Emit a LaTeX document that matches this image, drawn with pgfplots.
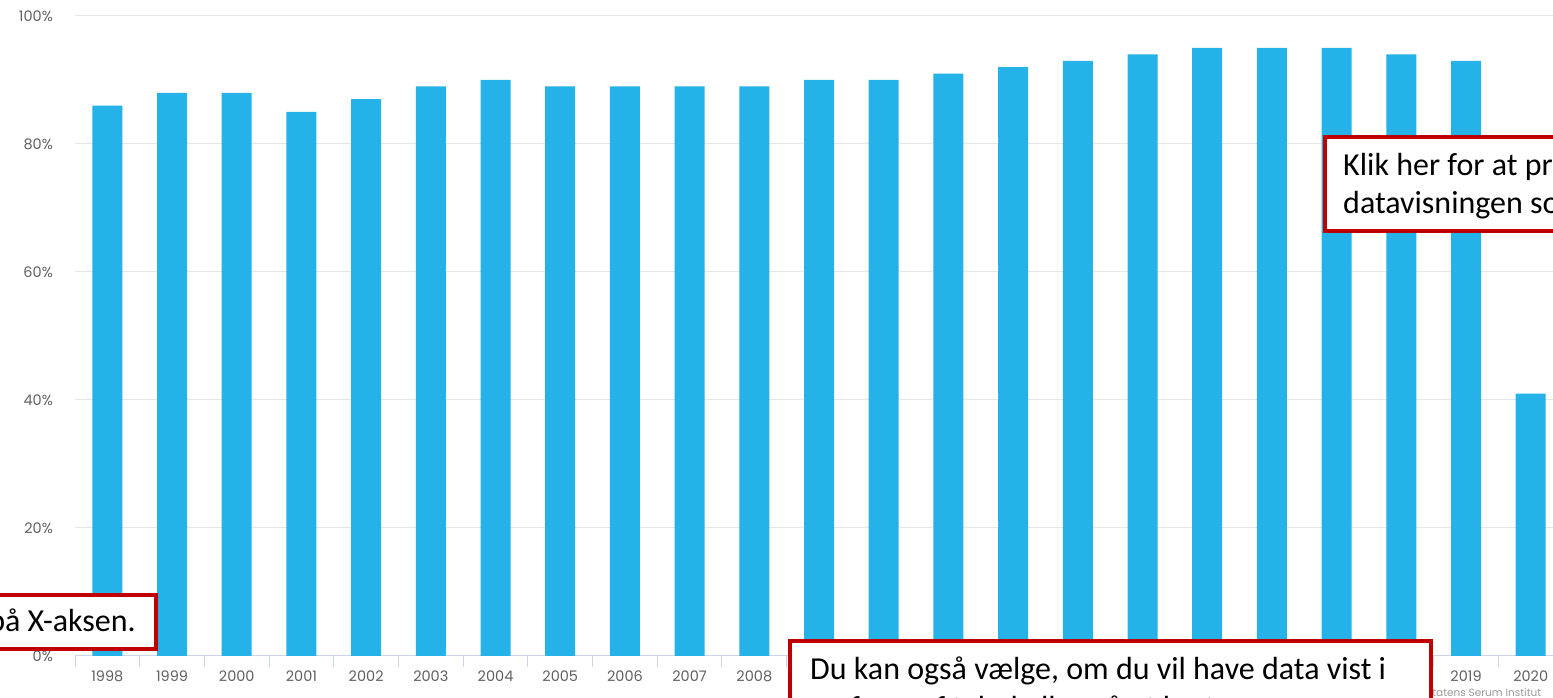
\documentclass[border=0pt]{standalone}
\usepackage{fontspec}
\usepackage{pgfplots}
\pgfplotsset{compat=1.18}
\newfontfamily\tickfont{Poppins}
\newfontfamily\boxfont{Carlito}
\definecolor{barc}{HTML}{24B2E8}
\definecolor{gridc}{HTML}{E6E6E6}
\definecolor{axisc}{HTML}{CCD6EB}
\definecolor{labc}{HTML}{606060}
\definecolor{credc}{HTML}{999999}
\definecolor{boxred}{HTML}{C00000}
\begin{document}
\begin{tikzpicture}[x=1pt,y=1pt]
\useasboundingbox (0,0) rectangle (1553,698);
\clip (0,0) rectangle (1553,698);
\begin{axis}[
  at={(75pt,42pt)}, anchor=south west,
  scale only axis, width=1488.1pt, height=640pt,
  xmin=-0.5, xmax=22.5, ymin=0, ymax=100,
  axis x line*=bottom, axis y line*=left,
  y axis line style={draw=none},
  x axis line style={draw=axisc, line width=1pt},
  ymajorgrids, grid style={draw=gridc, line width=1pt},
  ytick={0,20,40,60,80,100},
  yticklabels={0\%,20\%,40\%,60\%,80\%,100\%},
  xtick={0,...,22},
  xticklabels={1998,1999,2000,2001,2002,2003,2004,2005,2006,2007,2008,2009,2010,2011,2012,2013,2014,2015,2016,2017,2018,2019,2020},
  minor xtick={-0.5,0.5,...,22.5},
  tick align=outside,
  major tick length=0pt,
  minor tick length=11pt,
  minor tick style={draw=axisc, line width=1pt},
  tick label style={font=\tickfont\fontsize{14.5}{17}\selectfont, text=labc, inner sep=0pt},
  xticklabel style={anchor=base, yshift=-26pt},
  yticklabel style={anchor=east, xshift=-22pt},
]
\addplot[ybar, bar width=30pt, fill=barc, draw=none] coordinates {
(0,86) (1,88) (2,88) (3,85) (4,87) (5,89) (6,90) (7,89) (8,89) (9,89) (10,89)
(11,90) (12,90) (13,91) (14,92) (15,93) (16,94) (17,95) (18,95) (19,95) (20,94)
(21,93) (22,41)
};
\end{axis}
% credit
\node[anchor=base west, inner sep=0pt, text=credc, font=\tickfont\fontsize{10.5}{12}\selectfont] at (1426,1.5) {Statens Serum Institut};
% annotation boxes
\draw[boxred, line width=4pt, fill=white] (-200,49) rectangle (156,103);
\node[anchor=base east, inner sep=0pt, font=\boxfont\fontsize{32}{38.4}\selectfont] at (136,66) {Vælg år på X-aksen.};
\draw[boxred, line width=4pt, fill=white] (1325,467) rectangle (1700,561);
\node[anchor=base west, inner sep=0pt, font=\boxfont\fontsize{32}{38.4}\selectfont] at (1343,522) {Klik her for at printe eller downloade};
\node[anchor=base west, inner sep=0pt, font=\boxfont\fontsize{32}{38.4}\selectfont] at (1343,484) {datavisningen som billede.};
\draw[boxred, line width=4pt, fill=white] (790,-60) rectangle (1431,57);
\node[anchor=base west, inner sep=0pt, font=\boxfont\fontsize{32}{38.4}\selectfont] at (810,18) {Du kan også vælge, om du vil have data vist i};
\node[anchor=base west, inner sep=0pt, font=\boxfont\fontsize{32}{38.4}\selectfont] at (810,-21) {en form af tabel eller på et kort.};
\end{tikzpicture}
\end{document}
